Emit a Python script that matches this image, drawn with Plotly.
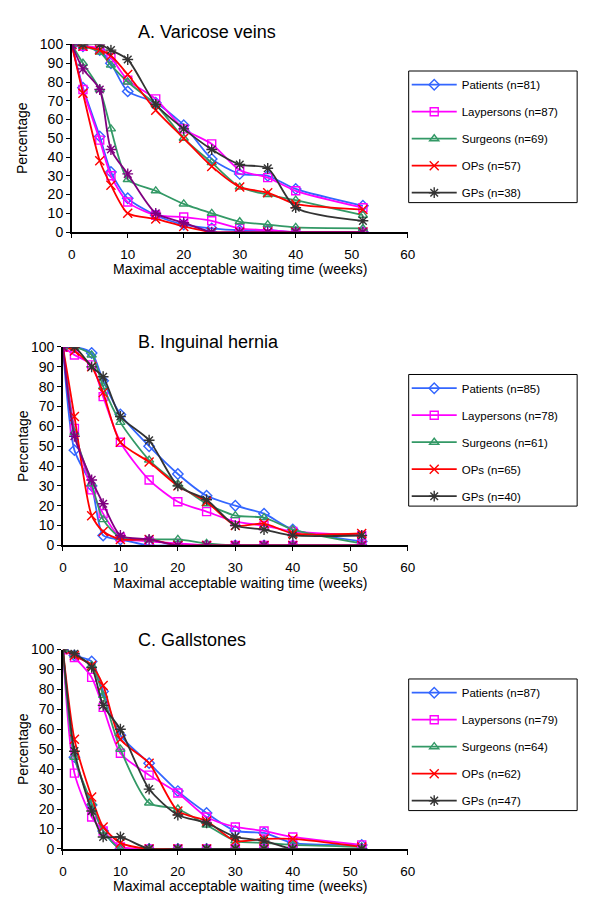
import plotly.graph_objects as go

# The page body adds an 8px margin; size the figure so the page is exactly 600x914.
OFF = 8
W, H = 600 - 2 * OFF, 914 - 2 * OFF

weeks = [0, 2, 5, 7, 10, 15, 20, 25, 30, 35, 40, 52]
groups = ["Patients", "Laypersons", "Surgeons", "OPs", "GPs"]

# Panel A: Varicose veins
A_n = [81, 87, 69, 57, 38]
A_upper_patients = [100, 99, 97, 90, 75, 69, 57, 39, 31, 30, 23, 14]
A_upper_laypersons = [100, 99, 98, 93, 81, 71, 55, 47, 33, 29, 22, 13]
A_upper_surgeons = [100, 99, 96, 89, 80, 68, 50, 37, 24, 20, 17, 9]
A_upper_ops = [100, 99, 97, 94, 84, 65, 50, 35, 24, 21, 15, 12]
A_upper_gps = [100, 100, 100, 97, 92, 68, 55, 44, 36, 34, 13, 6]
A_lower_patients = [100, 77, 51, 32, 18, 9, 4, 2, 1, 1, 0, 0]
A_lower_laypersons = [100, 76, 49, 30, 16, 9, 8, 6, 2, 1, 0, 0]
A_lower_surgeons = [100, 90, 76, 55, 28, 22, 15, 10, 5.5, 4, 2.5, 2]
A_lower_ops = [100, 74, 38, 25, 10, 7, 3, 0, 0, 0, 0, 0]
A_lower_gps = [100, 87, 76, 44, 31, 10, 5, 0, 0, 0, 0, 0]

# Panel B: Inguinal hernia
B_n = [85, 78, 61, 65, 40]
B_upper_patients = [100, 100, 97, 83, 66, 50, 36, 25, 20, 16, 8, 2]
B_upper_laypersons = [100, 96, 91, 75, 52, 33, 22, 17, 12, 10, 7, 5]
B_upper_surgeons = [100, 100, 96, 80, 62, 43, 31, 21, 15, 14, 8, 1]
B_upper_ops = [100, 98, 90, 77, 52, 42, 30, 22, 10, 11, 6, 6]
B_upper_gps = [100, 100, 90, 85, 65, 53, 30, 23, 10, 8, 5, 5]
B_lower_patients = [100, 48, 30, 5, 3, 0, 0, 0, 0, 0, 0, 0]
B_lower_laypersons = [100, 59, 28, 16, 4, 2, 1, 0, 0, 0, 0, 0]
B_lower_surgeons = [100, 57, 31, 13, 4, 3, 3, 1, 0, 0, 0, 0]
B_lower_ops = [100, 65, 15, 7, 3, 3, 0, 0, 0, 0, 0, 0]
B_lower_gps = [100, 55, 33, 21, 5, 3, 0, 0, 0, 0, 0, 0]

# Panel C: Gallstones
C_n = [87, 79, 64, 62, 47]
C_upper_patients = [100, 97, 94, 79, 57, 43, 29, 18, 9, 8, 3, 2]
C_upper_laypersons = [100, 96, 86, 71, 48, 37, 28, 16, 11, 9, 6, 2]
C_upper_surgeons = [100, 97, 92, 77, 50, 23, 20, 12, 4, 3, 2, 1]
C_upper_ops = [100, 97, 92, 82, 55, 43, 19, 14, 4, 5, 5, 1]
C_upper_gps = [100, 98, 91, 72, 60, 30, 17, 13, 6, 4, 0, 0]
C_lower_patients = [100, 46, 22, 9, 0, 0, 0, 0, 0, 0, 0, 0]
C_lower_laypersons = [100, 38, 16, 9, 1, 0, 0, 0, 0, 0, 0, 0]
C_lower_surgeons = [100, 46, 23, 9, 0, 0, 0, 0, 0, 0, 0, 0]
C_lower_ops = [100, 55, 26, 11, 3, 0, 0, 0, 0, 0, 0, 0]
C_lower_gps = [100, 49, 19, 6, 6, 0, 0, 0, 0, 0, 0, 0]

titles = ["A. Varicose veins", "B. Inguinal hernia", "C. Gallstones"]
x_title = "Maximal acceptable waiting time (weeks)"
y_title = "Percentage"

colors = ["#3366FF", "#FF00FF", "#339966", "#FF0000", "#333333"]
symbols = ["diamond-open", "square-open", "triangle-up-open", "x-thin", "asterisk-open"]
msizes = [8, 8, 8, 9, 9]

panels = [
    dict(n=A_n,
         upper=[A_upper_patients, A_upper_laypersons, A_upper_surgeons, A_upper_ops, A_upper_gps],
         lower=[A_lower_patients, A_lower_laypersons, A_lower_surgeons, A_lower_ops, A_lower_gps],
         gps_lower_color="#800080"),
    dict(n=B_n,
         upper=[B_upper_patients, B_upper_laypersons, B_upper_surgeons, B_upper_ops, B_upper_gps],
         lower=[B_lower_patients, B_lower_laypersons, B_lower_surgeons, B_lower_ops, B_lower_gps],
         gps_lower_color="#800080"),
    dict(n=C_n,
         upper=[C_upper_patients, C_upper_laypersons, C_upper_surgeons, C_upper_ops, C_upper_gps],
         lower=[C_lower_patients, C_lower_laypersons, C_lower_surgeons, C_lower_ops, C_lower_gps],
         gps_lower_color="#333333"),
]


def px(x):
    return (x - OFF) / W


def py(y):
    return 1 - (y - OFF) / H


# page-pixel geometry: (x at 0, x at 60, y at 100, y at 0)
geo = [(69, 412, 37, 228), (60, 412, 345, 547), (60, 412, 653, 856)]
legend_box_top = [64, 373, 683]
legend_box = (413, 585, 134)  # left, right, height
title_left = 135
title_y = [24, 340, 643]
xtitle_gap = 38

fig = go.Figure()
FONT = "Liberation Sans, Arial, sans-serif"

for p, panel in enumerate(panels):
    ax = "" if p == 0 else str(p + 1)
    leg = "legend" if p == 0 else "legend" + str(p + 1)
    for g in range(5):
        lc = colors[g]
        fig.add_trace(go.Scatter(
            x=weeks, y=panel["upper"][g], mode="lines+markers",
            name=f"{groups[g]} (n={panel['n'][g]})",
            line=dict(color=lc, width=1.8, shape="spline", smoothing=0.7),
            marker=dict(symbol=symbols[g], size=msizes[g], color=lc,
                        line=dict(color=lc, width=1.4)),
            xaxis="x" + ax, yaxis="y" + ax, legend=leg,
            legendgroup=f"p{p}g{g}", showlegend=True))
    for g in range(5):
        lc = colors[g] if g < 4 else panel["gps_lower_color"]
        fig.add_trace(go.Scatter(
            x=weeks, y=panel["lower"][g], mode="lines+markers",
            name=f"{groups[g]} (n={panel['n'][g]})",
            line=dict(color=lc, width=1.8, shape="spline", smoothing=0.7),
            marker=dict(symbol=symbols[g], size=msizes[g], color=lc,
                        line=dict(color=lc, width=1.4)),
            xaxis="x" + ax, yaxis="y" + ax, legend=leg,
            legendgroup=f"p{p}g{g}", showlegend=False))

layout = dict(
    width=W, height=H, margin=dict(l=0, r=0, t=0, b=0), autosize=False,
    paper_bgcolor="white", plot_bgcolor="white",
    font=dict(family=FONT, size=13, color="#000000"),
    showlegend=True, annotations=[], shapes=[],
)

LEG_FS = 11.5
item_h = max(LEG_FS * 1.3, 16) + 3  # plotly legend item height
for p in range(3):
    ax = "" if p == 0 else str(p + 1)
    x0, x60, y100, y0 = geo[p]
    layout["xaxis" + ax] = dict(
        domain=[px(x0), px(x60)], range=[0, 60], dtick=10, tick0=0,
        showline=True, linecolor="black", linewidth=1.5,
        ticks="outside", ticklen=4, tickcolor="black", tickwidth=1.2, showgrid=False,
        zeroline=False, anchor="y" + ax, tickfont=dict(size=13.5),
        ticklabelstandoff=5)
    layout["yaxis" + ax] = dict(
        domain=[py(y0), py(y100)], range=[0, 100], dtick=10, tick0=0,
        showline=True, linecolor="black", linewidth=1.5,
        ticks="outside", ticklen=4, tickcolor="black", tickwidth=1.2, showgrid=False,
        zeroline=False, anchor="x" + ax, tickfont=dict(size=14))
    # legend box drawn as a shape, legend entries placed inside it
    bl, br, bh = legend_box
    bt = legend_box_top[p]
    layout["shapes"].append(dict(
        type="rect", xref="paper", yref="paper",
        x0=px(bl), x1=px(br), y0=py(bt), y1=py(bt + bh),
        line=dict(color="black", width=1), fillcolor="rgba(0,0,0,0)", layer="below"))
    first_center = bt + 13.7
    leg = "legend" if p == 0 else "legend" + str(p + 1)
    layout[leg] = dict(
        x=px(bl - 2), y=py(first_center - (item_h / 2 + 5)), xanchor="left", yanchor="top",
        borderwidth=0, bgcolor="rgba(0,0,0,0)",
        font=dict(family=FONT, size=LEG_FS), tracegroupgap=27 - item_h,
        traceorder="grouped", itemwidth=45)
    layout["annotations"].append(dict(
        text=titles[p], x=px(title_left), y=py(title_y[p]), xref="paper", yref="paper",
        showarrow=False, font=dict(size=18, family=FONT), xanchor="left", yanchor="middle"))
    layout["annotations"].append(dict(
        text=y_title, x=px(19), y=py((y100 + y0) / 2), xref="paper", yref="paper",
        showarrow=False, textangle=-90, font=dict(size=14, family=FONT),
        xanchor="center", yanchor="middle"))
    layout["annotations"].append(dict(
        text=x_title, x=px(241), y=py(y0 + xtitle_gap),
        xref="paper", yref="paper", showarrow=False, font=dict(size=14, family=FONT),
        xanchor="center", yanchor="middle"))

fig.update_layout(**layout)
fig.write_html("out.html")
